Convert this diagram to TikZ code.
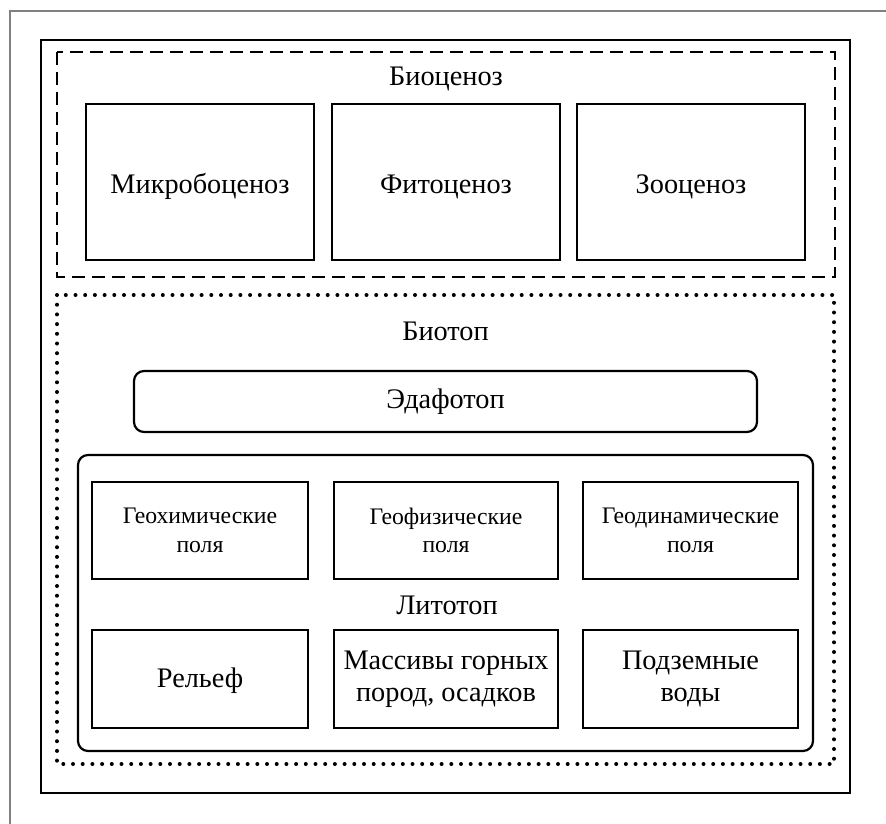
\documentclass[tikz,border=0pt]{standalone}
\usepackage{fontspec}
\setmainfont{Liberation Serif}
\begin{document}
\begin{tikzpicture}[x=1pt,y=-1pt,
  boxline/.style={line width=2.2pt, draw=black},
  bigbox/.style={boxline, rectangle, inner sep=0pt, align=center,
    font=\fontsize{28.3}{32.5}\selectfont},
  topbox/.style={bigbox, text height=22pt, text depth=0pt,
    minimum width=228pt, minimum height=156pt},
  smallbox/.style={boxline, rectangle, inner sep=0pt, align=center,
    font=\fontsize{23.7}{28.5}\selectfont},
  biglabel/.style={inner sep=0pt, anchor=base, font=\fontsize{28.3}{32.5}\selectfont},
  dashedframe/.style={line width=2.2pt, dash pattern=on 13pt off 7pt},
  dottedframe/.style={line width=4pt, line cap=round, dash pattern=on 0pt off 9.7pt},
  roundframe/.style={line width=2.2pt, rounded corners=10pt}
]
\useasboundingbox (0,0) rectangle (886,823);
\fill[white] (0,0) rectangle (886,823);
% gray frame
\draw[line width=2.5pt, color=black!50] (10,830) -- (10,11) -- (895,11);
% outer black rectangle
\draw[line width=2.2pt] (41,40) rectangle (850,793);
% biocenosis group
\draw[dashedframe] (57,52) rectangle (835,277);
\node[biglabel] (biocen) at (446,85) {Биоценоз};
\node[topbox] (micro) at (200,182) {Микробоценоз};
\node[topbox] (phyto) at (446,182) {Фитоценоз};
\node[topbox] (zoo) at (691,182) {Зооценоз};
% biotope group
\draw[dottedframe] (57,295) rectangle (834,764);
\node[biglabel] (biotop) at (445.5,340) {Биотоп};
\node[bigbox, roundframe, text height=13pt, text depth=0pt, minimum width=623pt, minimum height=61pt] (edaf) at (445.5,401.5) {Эдафотоп};
% lithotope
\draw[roundframe] (78,455) rectangle (813,751);
\node[biglabel] (litot) at (447,614) {Литотоп};
\node[smallbox, minimum width=216pt, minimum height=97pt] (geochem) at (200,530.5) {Геохимические\\поля};
\node[smallbox, minimum width=224pt, minimum height=97pt] (geophys) at (446,530.5) {Геофизические\\поля};
\node[smallbox, minimum width=215pt, minimum height=97pt] (geodyn) at (690.5,530.5) {Геодинамические\\поля};
\node[bigbox, text height=16pt, text depth=0pt, minimum width=216pt, minimum height=98pt] (relief) at (200,679) {Рельеф};
\node[bigbox, minimum width=224pt, minimum height=98pt] (massiv) at (446,679) {Массивы горных\\пород, осадков};
\node[bigbox, minimum width=215pt, minimum height=98pt] (water) at (690.5,679) {Подземные\\воды};
\end{tikzpicture}
\end{document}
